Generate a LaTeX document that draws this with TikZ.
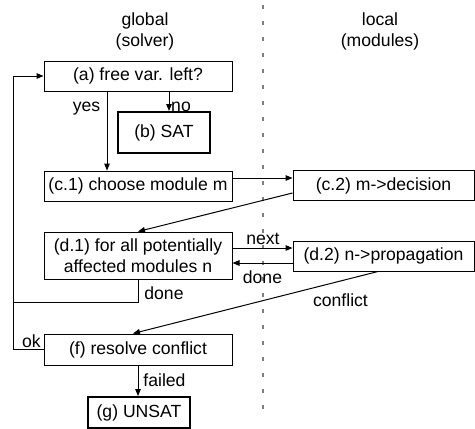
\documentclass[tikz,border=0pt]{standalone}
\usepackage{fontspec}
\setmainfont{Liberation Sans}
\usetikzlibrary{calc,arrows.meta,positioning}

\begin{document}
\begin{tikzpicture}[x=0.5pt,y=-0.5pt,line width=0.5pt,
  font=\fontsize{8.8pt}{10.5pt}\selectfont,
  >={Triangle[length=3.5pt,width=2.8pt]},
  box/.style={draw,inner sep=1pt,minimum height=15pt},
  result/.style={box,line width=1pt}]
\useasboundingbox (0,0) rectangle (475,428);
\draw[gray,line width=0.7pt,dash pattern=on 2pt off 6pt] (263,5) -- (263,418);
\node[align=center] (hglob) at (145,31.5) {global\\(solver)};
\node[align=center] (hloc) at (380,31) {local\\(modules)};
\node[box,minimum width=94pt] (a) at (138,76) {(a) free var. left?};
\node[result,minimum width=46pt,minimum height=20.5pt] (b) at (164,132.5) {(b) SAT};
\node[box,minimum width=94pt] (c1) at (138,186) {(c.1) choose module m};
\node[box,minimum width=90.5pt] (c2) at (383.5,185.5) {(c.2) m->decision};
\node[box,minimum width=94pt,minimum height=23.5pt,align=center] (d1) at (138,255.5) {(d.1) for all potentially\\affected modules n};
\node[box,minimum width=90.5pt] (d2) at (383.5,256) {(d.2) n->propagation};
\node[box,minimum width=94pt,minimum height=15.5pt] (f) at (138,349.5) {(f) resolve conflict};
\node[result,minimum width=51pt,minimum height=15.5pt] (g) at (139,412.5) {(g) UNSAT};

\coordinate (yes) at ($(a.south)+(-31,0)$);
\coordinate (no) at ($(a.south)+(31,0)$);
\coordinate (pick) at ($(c1.east)+(0,-8)$);
\coordinate (next) at ($(d1.east)+(0,-7.5)$);
\coordinate (back) at ($(d2.west)+(0,7)$);
\coordinate (loop) at (13,302);

\draw[->] (yes) -- (yes |- c1.north);
\draw[->] (no) -- (no |- b.north);
\draw[->] (pick) -- (pick -| c2.west);
\draw[->] ($(c2.south west)+(0,-8)$) -- (d1.north);
\draw[->] (next) -- (next -| d2.west);
\draw[->] (back) -- (back -| d1.east);
\draw[->] ($(d2.south)+(-5.5,0)$) -- ($(f.north)+(-5,0)$);
\draw[->] (d1.south) |- (loop) |- (a.west);
\draw (f.west) -| (loop);
\draw[->] (f.south) -- (f.south |- g.north);

\node (lyes) at (86.5,108.5) {yes};
\node (lno) at (181,107) {no};
\node (ldone) at (164,293) {done};
\node (lok) at (31.5,341.5) {ok};
\node (lfail) at (164.5,380) {failed};
\node (lnext) at (263,238.5) {next};
\node (lback) at (262.5,277) {done};
\node (lconf) at (340.5,300.5) {conflict};
\end{tikzpicture}
\end{document}
